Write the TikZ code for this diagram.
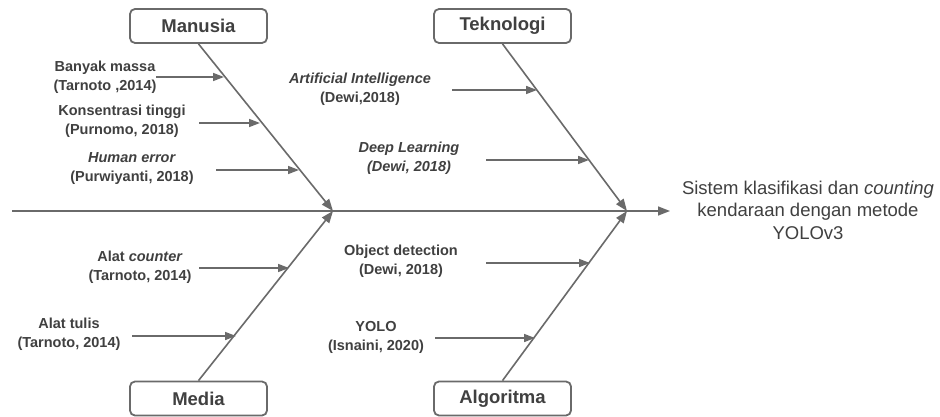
\documentclass[tikz,border=0pt]{standalone}
\usepackage{fontspec}
\setmainfont{Liberation Sans}
\usetikzlibrary{arrows.meta}
\definecolor{linegray}{HTML}{6A6A6A}
\definecolor{textgray}{HTML}{404040}
\begin{document}
\begin{tikzpicture}[x=1pt,y=-1pt,
  catbox/.style={draw=linegray, line width=1.8pt, rounded corners=5pt, minimum width=137pt, minimum height=34pt, inner sep=0pt, text=textgray, font=\fontsize{18.5}{22}\selectfont\bfseries},
  cause/.style={align=center, inner sep=0pt, text=textgray, font=\fontsize{14.5}{19}\selectfont\bfseries},
  bone/.style={draw=linegray, line width=1.6pt, -{Triangle[length=12pt,width=9pt]}},
  twig/.style={draw=linegray, line width=1.6pt, -{Triangle[length=11pt,width=8pt]}},
]
\useasboundingbox (0,0) rectangle (940,417);
\fill[white] (0,0) rectangle (940,417);

% category boxes
\node[catbox] (manusia) at (198.5,26) {Manusia};
\node[catbox] (teknologi) at (502.5,26) {Teknologi};
\node[catbox] (media) at (198.5,398.5) {Media};
\node[catbox] (algoritma) at (502.5,398.5) {Algoritma};

% spine
\coordinate (spinestart) at (12,211);
\coordinate (j1) at (333,211);
\coordinate (j2) at (627,211);
\coordinate (spineend) at (670,211);
\draw[bone] (spinestart) -- (spineend);

\node[align=center, inner sep=0pt, text=textgray, font=\fontsize{18.5}{22.5}\selectfont] (effect) at (808,210)
  {Sistem klasifikasi dan \textit{counting}\\kendaraan dengan metode\\YOLOv3};

% bones
\draw[bone] (manusia.south) -- (j1);
\draw[bone] (media.north) -- (j1);
\draw[bone] (teknologi.south) -- (j2);
\draw[bone] (algoritma.north) -- (j2);

% causes - Manusia
\node[cause] (banyak) at (105,77) {Banyak massa\\(Tarnoto ,2014)};
\node[cause] (konsen) at (122,121.5) {Konsentrasi tinggi\\(Purnomo, 2018)};
\node[cause] (human) at (132,168.5) {\textit{Human error}\\(Purwiyanti, 2018)};
\coordinate (banyakS) at (156,77);   \coordinate (banyakE) at (224,77);
\coordinate (konsenS) at (199,123);  \coordinate (konsenE) at (260,123);
\coordinate (humanS) at (216,170);   \coordinate (humanE) at (299,170);
\draw[twig] (banyakS) -- (banyakE);
\draw[twig] (konsenS) -- (konsenE);
\draw[twig] (humanS) -- (humanE);

% causes - Teknologi
\node[cause] (ai) at (360,89) {\textit{Artificial Intelligence}\\(Dewi,2018)};
\node[cause] (deep) at (409,158.5) {\textit{Deep Learning}\\\textit{(Dewi, 2018)}};
\coordinate (aiS) at (452,90);     \coordinate (aiE) at (537,90);
\coordinate (deepS) at (486,160);  \coordinate (deepE) at (589,160);
\draw[twig] (aiS) -- (aiE);
\draw[twig] (deepS) -- (deepE);

% causes - Media
\node[cause] (counter) at (140,267.5) {Alat \textit{counter}\\(Tarnoto, 2014)};
\node[cause] (tulis) at (69,334.5) {Alat tulis\\(Tarnoto, 2014)};
\coordinate (counterS) at (199,268); \coordinate (counterE) at (289,268);
\coordinate (tulisS) at (132,336);   \coordinate (tulisE) at (236,336);
\draw[twig] (counterS) -- (counterE);
\draw[twig] (tulisS) -- (tulisE);

% causes - Algoritma
\node[cause] (objdet) at (401,261.5) {Object detection\\(Dewi, 2018)};
\node[cause] (yolo) at (376,337) {YOLO\\(Isnaini, 2020)};
\coordinate (objdetS) at (486,263); \coordinate (objdetE) at (590,263);
\coordinate (yoloS) at (435,338);   \coordinate (yoloE) at (535,338);
\draw[twig] (objdetS) -- (objdetE);
\draw[twig] (yoloS) -- (yoloE);
\end{tikzpicture}
\end{document}
